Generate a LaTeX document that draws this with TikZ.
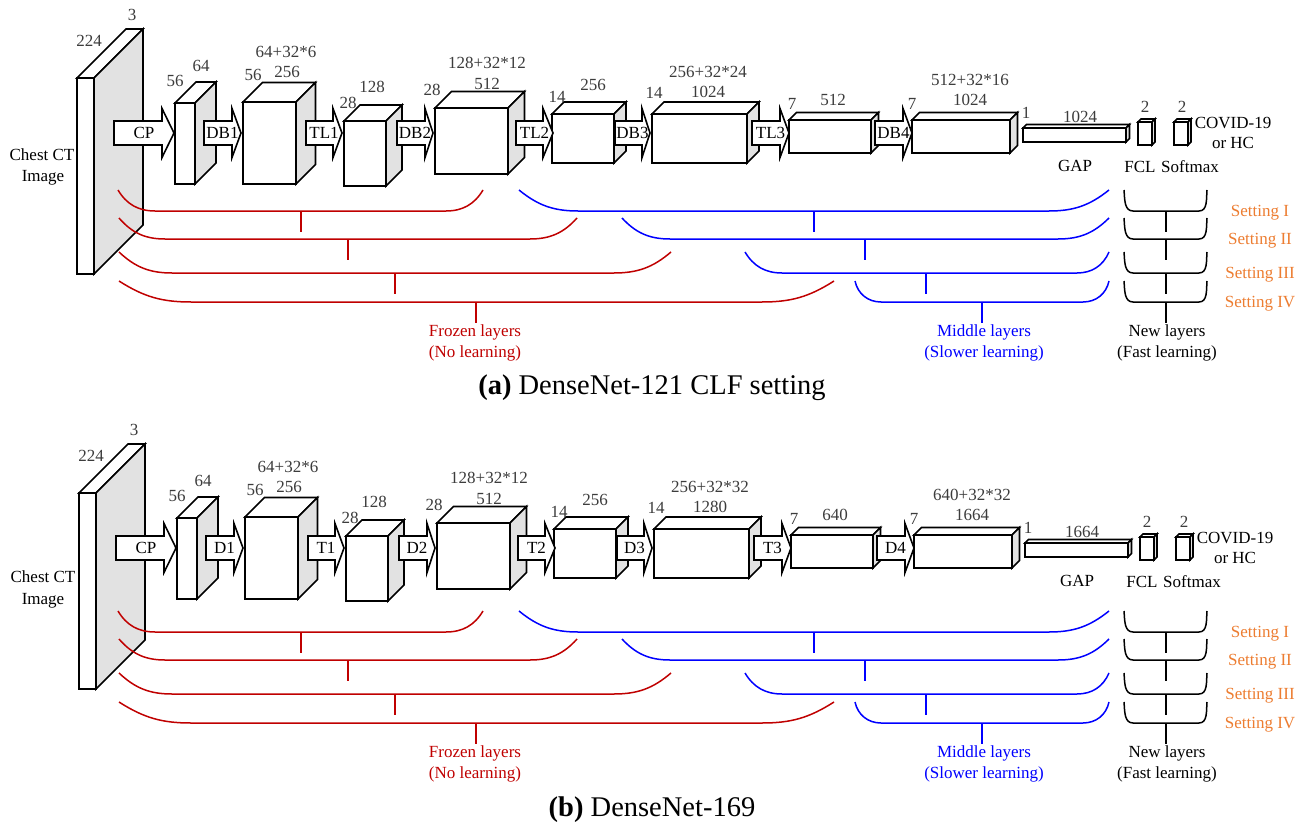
\documentclass[tikz,border=0pt]{standalone}
\usepackage{fontspec}
\setmainfont{Liberation Serif}
\usetikzlibrary{calc}

\definecolor{sidegray}{RGB}{226,226,226}
\definecolor{numgray}{RGB}{60,60,60}
\definecolor{frozen}{RGB}{192,0,0}
\definecolor{middle}{RGB}{0,0,255}
\definecolor{setorange}{RGB}{237,125,49}

\tikzset{
  cubeline/.style={draw=black, line width=1.6pt, line join=miter},
  txt/.style={inner sep=0pt, anchor=base, yshift=-5.8pt, font=\fontsize{17}{17}\selectfont},
  num/.style={txt, text=numgray},
  lbl/.style={txt, text=black},
  setting/.style={txt, text=setorange},
  captext/.style={inner sep=0pt, anchor=base, yshift=-9.4pt, font=\fontsize{28.5}{28.5}\selectfont},
  brk/.style={line width=1.5pt},
}

% feature-map block: front face (x1,y1)-(x2,y2), drawn with depth d up and to the right
\newcommand\cuboid[6]{%
  \filldraw[cubeline, fill=white] (#2,#3) -- (#2+#6,#3-#6) -- (#4+#6,#3-#6) -- (#4,#3) -- cycle;
  \filldraw[cubeline, fill=sidegray] (#4,#3) -- (#4+#6,#3-#6) -- (#4+#6,#5-#6) -- (#4,#5) -- cycle;
  \filldraw[cubeline, fill=white] (#2,#3) rectangle (#4,#5);
  \coordinate (#1) at ({(#2+#4)/2},{(#3+#5)/2});
}

% wide block arrow from x0 to the tip, head starting at x1
\newcommand\fatarrow[5]{%
  \filldraw[cubeline, fill=white] (#2,121) -- (#3,121) -- (#3,108.5) -- (#4,133)
    -- (#3,157.5) -- (#3,145) -- (#2,145) -- cycle;
  \node[lbl] (#1) at ({(#2+#4)/2},133) {#5};
}

% layer-group bracket with a tick under it
\newcommand\bracket[8]{%
  \pgfmathsetmacro\angL{min(2*atan(21/(#4-#3)),85)}%
  \pgfmathsetmacro\angR{180+min(2*atan(21/(#6-#5)),85)}%
  \draw[brk,#2] (#3,#7-21) to[out=-\angL,in=180] (#4,#7) -- (#5,#7)
    to[out=0,in=\angR] (#6,#7-21);
  \draw[brk,#2] (#8,#7) -- (#8,#7+21) coordinate (#1);
}

% the network: input, blocks, arrows and their sizes
\newcommand\network[9]{%
  \cuboid{#1-in}{77}{78}{94}{274}{49}
  \cuboid{#1-c1}{175}{103}{195}{184}{21}
  \cuboid{#1-c2}{243}{102}{296}{184}{19.5}
  \cuboid{#1-c3}{344}{121}{386}{186}{16}
  \cuboid{#1-c4}{435}{108}{508}{174}{16.5}
  \cuboid{#1-c5}{552}{114}{614}{163}{12}
  \cuboid{#1-c6}{652}{114}{747}{163}{12}
  \cuboid{#1-c7}{789}{120}{871}{153}{7.5}
  \cuboid{#1-c8}{912}{120}{1010}{153}{7.5}
  \cuboid{#1-gap}{1023}{128}{1126}{142}{3.5}
  \cuboid{#1-fcl}{1138}{122}{1152}{145}{3}
  \cuboid{#1-sm}{1174}{122}{1188}{145}{3}
  \fatarrow{#1-a0}{114}{162}{174}{CP}
  \fatarrow{#1-a1}{204}{232}{241}{#21}
  \fatarrow{#1-a2}{306}{333}{342}{#31}
  \fatarrow{#1-a3}{397}{425}{433}{#22}
  \fatarrow{#1-a4}{516}{543}{553}{#32}
  \fatarrow{#1-a5}{615}{642}{650}{#23}
  \fatarrow{#1-a6}{752}{780}{789}{#33}
  \fatarrow{#1-a7}{875}{903}{912}{#24}
  \node[num] (#1-t1) at (132,15) {3};
  \node[num] (#1-t2) at (89,41) {224};
  \node[num] (#1-t3) at (175,81) {56};
  \node[num] (#1-t4) at (201,66) {64};
  \node[num] (#1-t5) at (253,75) {56};
  \node[num] (#1-t6) at (287,72) {256};
  \node[num] (#1-t7) at (286,52) {64+32*6};
  \node[num] (#1-t8) at (348,103) {28};
  \node[num] (#1-t9) at (372,87) {128};
  \node[num] (#1-t10) at (432,90) {28};
  \node[num] (#1-t11) at (487,84) {512};
  \node[num] (#1-t12) at (487,63) {128+32*12};
  \node[num] (#1-t13) at (557,97) {14};
  \node[num] (#1-t14) at (593,85) {256};
  \node[num] (#1-t15) at (654,93) {14};
  \node[num] (#1-t16) at (708,92) {#4};
  \node[num] (#1-t17) at (708,72) {#5};
  \node[num] (#1-t18) at (792,104) {7};
  \node[num] (#1-t19) at (833,100) {#6};
  \node[num] (#1-t20) at (912,104) {7};
  \node[num] (#1-t21) at (970,100) {#7};
  \node[num] (#1-t22) at (970,80) {#8};
  \node[num] (#1-t23) at (1026,113) {1};
  \node[num] (#1-t24) at (1080,117) {#9};
  \node[num] (#1-t25) at (1145,107) {2};
  \node[num] (#1-t26) at (1182,107) {2};
  \node[lbl] (#1-out1) at (1233,123) {COVID-19};
  \node[lbl] (#1-out2) at (1233,143) {or HC};
  \node[lbl] (#1-gapl) at (1075,166) {GAP};
  \node[lbl] (#1-fcll) at (1140,167) {FCL};
  \node[lbl] (#1-sml) at (1190,167) {Softmax};
}

% the four fine-tuning settings under a network
\newcommand\settings[1]{%
  \bracket{#1-f1}{frozen}{118}{155}{446}{483}{211}{301}
  \bracket{#1-f2}{frozen}{119}{165}{530}{577}{239}{348}
  \bracket{#1-f3}{frozen}{119}{172}{614}{671}{273}{395}
  \bracket{#1-f4}{frozen}{119}{191}{762}{834}{302}{476}
  \bracket{#1-m1}{middle}{519}{578}{1049}{1109}{211}{814}
  \bracket{#1-m2}{middle}{622}{670}{1058}{1109}{239}{865}
  \bracket{#1-m3}{middle}{745}{782}{1077}{1109}{273}{926}
  \bracket{#1-m4}{middle}{855}{881}{1083}{1109}{302}{982}
  \bracket{#1-n1}{black}{1124}{1133}{1199}{1207}{211}{1166}
  \bracket{#1-n2}{black}{1124}{1133}{1199}{1207}{239}{1166}
  \bracket{#1-n3}{black}{1124}{1133}{1199}{1207}{273}{1166}
  \bracket{#1-n4}{black}{1124}{1133}{1199}{1207}{302}{1166}
  \node[setting] (#1-s1) at (1260,211) {Setting I};
  \node[setting] (#1-s2) at (1260,239) {Setting II};
  \node[setting] (#1-s3) at (1260,273) {Setting III};
  \node[setting] (#1-s4) at (1260,302) {Setting IV};
  \node[txt, text=frozen] (#1-fz1) at (475,331) {Frozen layers};
  \node[txt, text=frozen] (#1-fz2) at (475,352) {(No learning)};
  \node[txt, text=middle] (#1-md1) at (984,331) {Middle layers};
  \node[txt, text=middle] (#1-md2) at (984,352) {(Slower learning)};
  \node[lbl] (#1-nw1) at (1167,331) {New layers};
  \node[lbl] (#1-nw2) at (1167,352) {(Fast learning)};
}

\begin{document}
\begin{tikzpicture}[x=1pt,y=-1pt]
\useasboundingbox (0,0) rectangle (1304,824);
\fill[white] (0,0) rectangle (1304,824);

% (a) DenseNet-121
\network{a}{DB}{TL}{1024}{256+32*24}{512}{1024}{512+32*16}{1024}
\node[lbl] (a-img1) at (42,155) {Chest CT};
\node[lbl] (a-img2) at (43,176) {Image};
\settings{a}
\node[captext] (a-cap) at (652,385) {\textbf{(a)} DenseNet-121 CLF setting};

% (b) DenseNet-169
\begin{scope}[shift={(2,415)}]
\network{b}{D}{T}{1280}{256+32*32}{640}{1664}{640+32*32}{1664}
\end{scope}
\node[lbl] (b-img1) at (43,577) {Chest CT};
\node[lbl] (b-img2) at (43,599) {Image};
\begin{scope}[shift={(0,421)}]
\settings{b}
\end{scope}
\node[captext] (b-cap) at (652,807) {\textbf{(b)} DenseNet-169};
\end{tikzpicture}
\end{document}
